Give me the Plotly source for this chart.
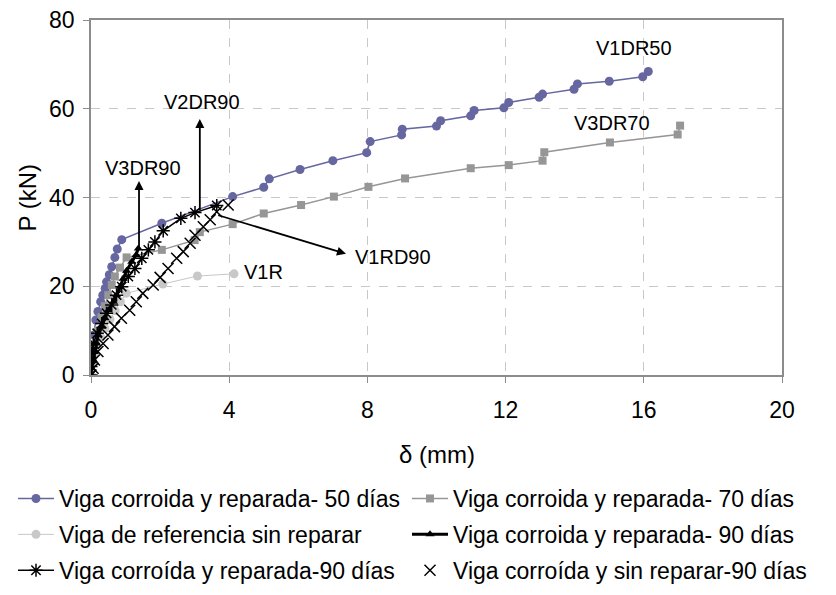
import plotly.graph_objects as go

# V1DR50 - Viga corroida y reparada- 50 días
d50 = [0, 0.02, 0.04, 0.08, 0.14, 0.2, 0.28, 0.34, 0.41, 0.45, 0.53, 0.6, 0.69, 0.76, 0.89,
       2.05, 4.1, 5.0, 5.16, 6.05, 7.0, 7.98, 8.08, 8.99, 9.01, 10.0, 10.12, 10.99, 11.09,
       11.95, 12.09, 12.97, 13.07, 13.98, 14.08, 15.0, 15.97, 16.13]
p50 = [0, 3, 6, 9, 12.4, 14.3, 16.5, 18.0, 19.5, 21.0, 22.6, 24.4, 26.5, 28.4, 30.5,
       34.2, 40.2, 42.3, 44.2, 46.3, 48.3, 50.1, 52.6, 54.1, 55.4, 56.1, 57.3, 58.4, 59.6,
       60.2, 61.4, 62.6, 63.3, 64.4, 65.6, 66.2, 67.2, 68.4]

# V3DR70 - Viga corroida y reparada- 70 días
d70 = [0, 0.05, 0.1, 0.2, 0.3, 0.4, 0.5, 0.6, 0.69, 0.84, 1.03, 2.05, 3.0, 3.15, 4.1, 5.0,
       6.08, 7.03, 8.03, 9.09, 10.99, 12.09, 13.07, 13.12, 15.02, 16.98, 17.05]
p70 = [0, 3, 6, 10, 13, 15.5, 18, 20.3, 22.2, 24.2, 26.5, 28.2, 30.4, 32.2, 34.0, 36.4,
       38.3, 40.2, 42.4, 44.3, 46.6, 47.3, 48.3, 50.2, 52.4, 54.2, 56.2]

# V1R - Viga de referencia sin reparar
dref = [0, 0.05, 0.1, 0.18, 0.28, 0.4, 0.55, 0.7, 0.85, 1.02, 2.08, 3.08, 4.14]
pref = [0, 2.5, 4.5, 6.5, 8.5, 10.5, 12.5, 14.5, 16.5, 18.4, 20.5, 22.3, 22.8]

# V3DR90 - Viga corroida y reparada- 90 días (triangles)
d90a = [0, 0.02, 0.07, 0.12, 0.16, 0.21, 0.31, 0.41, 0.5, 0.65, 0.74, 0.84, 0.93, 1.03,
        1.18, 1.3, 1.37]
p90a = [0, 1.5, 3.4, 5.3, 7.1, 9.0, 10.9, 12.8, 14.6, 16.5, 18.0, 19.9, 21.7, 23.5,
        25.5, 27.0, 28.5]

# V2DR90 - Viga corroída y reparada-90 días (asterisk)
d90b = [0, 0, 0.02, 0.07, 0.18, 0.31, 0.45, 0.6, 0.74, 0.89, 1.08, 1.27, 1.47, 1.66,
        1.85, 2.09, 2.6, 3.01, 3.64]
p90b = [0, 1.9, 4.9, 7.1, 9.4, 11.6, 13.9, 15.8, 18.0, 19.9, 22.2, 24.0, 26.3, 28.2,
        30.0, 32.5, 35.3, 36.6, 38.2]

# V1RD90 - Viga corroída y sin reparar-90 días (x)
d90c = [0, 0.06, 0.1, 0.2, 0.35, 0.49, 0.68, 0.88, 1.12, 1.31, 1.5, 1.8, 2.0, 2.23, 2.48,
        2.67, 2.87, 3.01, 3.25, 3.45, 3.64, 3.97]
p90c = [0, 1.5, 3.4, 5.3, 7.1, 9.0, 10.9, 12.8, 14.6, 16.5, 18.4, 20.3, 22.0, 24.0, 26.3,
        27.8, 29.7, 31.5, 33.4, 35.0, 36.8, 38.3]

names = ["Viga corroida y reparada- 50 días", "Viga corroida y reparada- 70 días",
         "Viga de referencia sin reparar", "Viga corroida y reparada- 90 días",
         "Viga corroída y reparada-90 días", "Viga corroída y sin reparar-90 días"]

xticks = [0, 4, 8, 12, 16, 20]
yticks = [0, 20, 40, 60, 80]

FONT = "Liberation Sans, Arial, sans-serif"
W, H = 828, 587
fig = go.Figure()

fig.add_trace(go.Scatter(x=d50, y=p50, name=names[0], mode="lines+markers",
                         legend="legend", legendgroup="a",
                         line=dict(color="#6666A0", width=1.5),
                         marker=dict(symbol="circle", size=9, color="#6666A0")))
fig.add_trace(go.Scatter(x=d70, y=p70, name=names[1], mode="lines+markers",
                         legend="legend2", legendgroup="b",
                         line=dict(color="#969696", width=1.5),
                         marker=dict(symbol="square", size=8, color="#969696")))
fig.add_trace(go.Scatter(x=dref, y=pref, name=names[2], mode="lines+markers",
                         legend="legend", legendgroup="c",
                         line=dict(color="#C8C8C8", width=1),
                         marker=dict(symbol="circle", size=9, color="#C8C8C8")))
fig.add_trace(go.Scatter(x=d90a, y=p90a, name=names[3], mode="lines+markers",
                         legend="legend2", legendgroup="d",
                         line=dict(color="#000000", width=3),
                         marker=dict(symbol="triangle-up", size=8, color="#000000")))
fig.add_trace(go.Scatter(x=d90b, y=p90b, name=names[4], mode="lines+markers",
                         legend="legend", legendgroup="e",
                         line=dict(color="#000000", width=1.5),
                         marker=dict(symbol="asterisk-open", size=11, color="#000000",
                                     line=dict(color="#000000", width=1.5))))
fig.add_trace(go.Scatter(x=d90c, y=p90c, name=names[5], mode="markers",
                         legend="legend2", legendgroup="f",
                         marker=dict(symbol="x-thin-open", size=11, color="#000000",
                                     line=dict(color="#000000", width=1.5))))

ann_font = dict(family=FONT, size=20, color="#000000")
# arrows
fig.add_annotation(x=1.39, y=43.7, ax=1.39, ay=27.8, xref="x", yref="y", axref="x", ayref="y",
                   text="", showarrow=True, arrowhead=2, arrowsize=1, arrowwidth=1.8,
                   arrowcolor="#000000")
fig.add_annotation(x=3.15, y=57.7, ax=3.15, ay=36.8, xref="x", yref="y", axref="x", ayref="y",
                   text="", showarrow=True, arrowhead=2, arrowsize=1, arrowwidth=1.8,
                   arrowcolor="#000000")
fig.add_annotation(x=7.38, y=27.3, ax=3.64, ay=36.1, xref="x", yref="y", axref="x", ayref="y",
                   text="", showarrow=True, arrowhead=2, arrowsize=1, arrowwidth=1.8,
                   arrowcolor="#000000")
# labels
fig.add_annotation(x=1.5, y=46.6, text="V3DR90", showarrow=False, font=ann_font)
fig.add_annotation(x=3.2, y=61.6, text="V2DR90", showarrow=False, font=ann_font)
fig.add_annotation(x=7.58, y=26.7, text="V1RD90", showarrow=False, xanchor="left", font=ann_font)
fig.add_annotation(x=15.72, y=73.7, text="V1DR50", showarrow=False, font=ann_font)
fig.add_annotation(x=15.09, y=56.7, text="V3DR70", showarrow=False, font=ann_font)
fig.add_annotation(x=4.98, y=23.2, text="V1R", showarrow=False, font=ann_font)

# axis titles
title_font = dict(family=FONT, size=24, color="#000000")
fig.add_annotation(x=-0.0926, y=0.5, xref="paper", yref="paper", text="P (kN)",
                   xanchor="center", yanchor="middle",
                   textangle=-90, showarrow=False, font=title_font)
fig.add_annotation(x=0.5, y=-0.225, xref="paper", yref="paper", text="δ (mm)",
                   xanchor="center", yanchor="middle",
                   showarrow=False, font=title_font)

axis_common = dict(showline=True, linecolor="#8C8C8C", linewidth=1.5, mirror=True,
                   ticks="outside", ticklen=6, tickcolor="#8C8C8C", tickwidth=1,
                   showgrid=True, gridcolor="#C8C8C8", griddash="dash", gridwidth=1,
                   zeroline=False, automargin=False, ticklabeloverflow="allow",
                   tickfont=dict(family=FONT, size=23, color="#000000"))

fig.update_xaxes(range=[0, 20], tickvals=xticks, ticktext=[str(v) for v in xticks],
                 ticklabelstandoff=8, **axis_common)
fig.update_yaxes(range=[0, 80], tickvals=yticks, ticktext=[str(v) for v in yticks],
                 ticklabelstandoff=4, **axis_common)

leg_common = dict(orientation="v", xref="container", yref="container",
                  xanchor="left", yanchor="top", bgcolor="rgba(0,0,0,0)",
                  font=dict(family=FONT, size=23, color="#000000"),
                  tracegroupgap=3, itemwidth=36)

fig.update_layout(
    width=W, height=H,
    margin=dict(l=83, r=54, t=12, b=220, autoexpand=False),
    paper_bgcolor="#FFFFFF", plot_bgcolor="#FFFFFF",
    font=dict(family=FONT, size=21, color="#000000"),
    showlegend=True,
    legend=dict(x=5 / W, y=1 - 469 / H, **leg_common),
    legend2=dict(x=399 / W, y=1 - 469 / H, **leg_common),
)

fig.write_html("out.html")
